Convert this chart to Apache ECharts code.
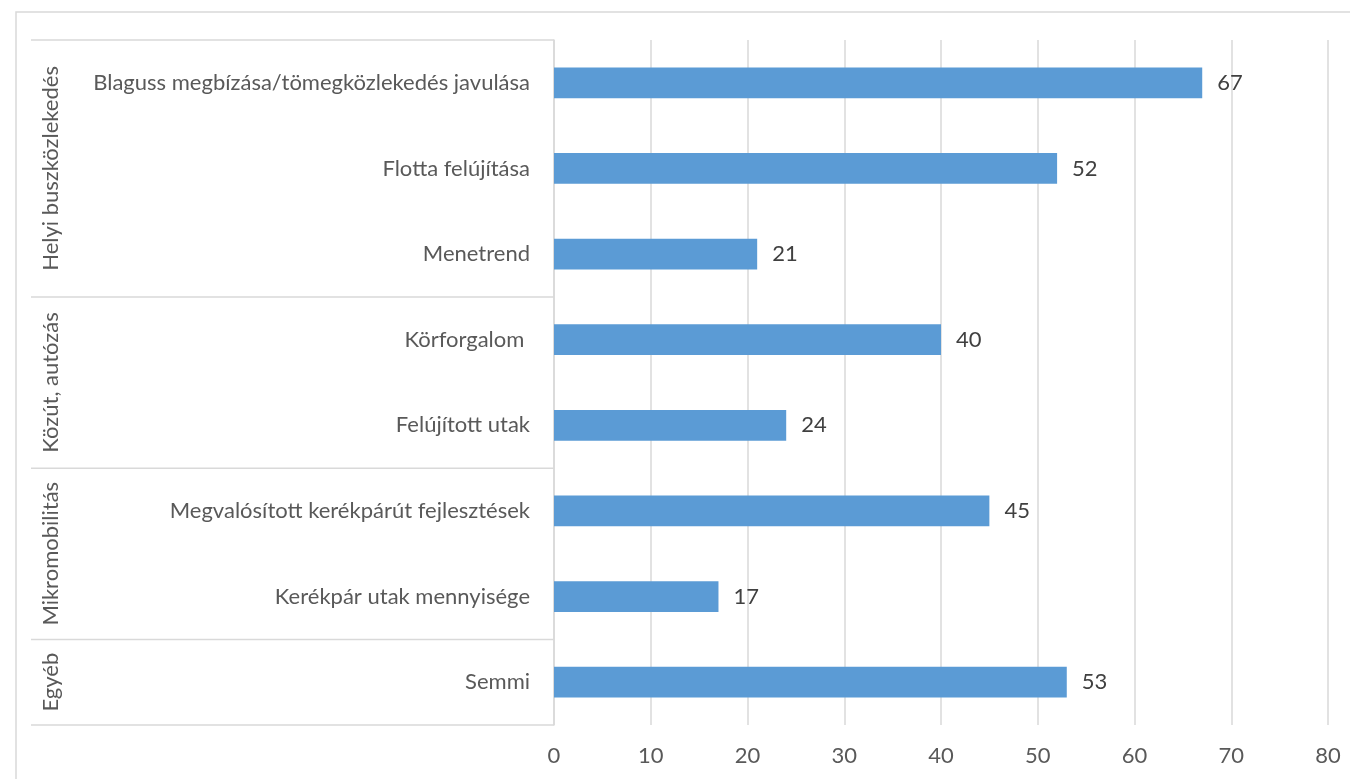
<!DOCTYPE html>
<html>
<head>
<meta charset="utf-8">
<script src="https://cdn.jsdelivr.net/npm/echarts@6/dist/echarts.min.js"></script>
<style>
  html, body { margin: 0; padding: 0; background: #fff; }
  #main { width: 1350px; height: 779px; }
</style>
</head>
<body>
<div id="main"></div>
<script>
var categories = [
    'Blaguss megbízása/tömegközlekedés javulása',
    'Flotta felújítása',
    'Menetrend',
    'Körforgalom ',
    'Felújított utak',
    'Megvalósított kerékpárút fejlesztések',
    'Kerékpár utak mennyisége',
    'Semmi'
];
var values = [67, 52, 21, 40, 24, 45, 17, 53];
var groupNames = ['Helyi buszközlekedés', 'Közút, autózás', 'Mikromobilitás', 'Egyéb'];
var groupSizes = [3, 2, 2, 1];

var textColor = '#595959';
var lineColor = '#d9d9d9';
var font = 'Lato';
var fontSize = 22;

var chart = echarts.init(document.getElementById('main'));
var option = {
    animation: false,
    grid: {
        left: 554,
        right: 22,
        top: 40,
        bottom: 54
    },
    xAxis: {
        type: 'value',
        min: 0,
        max: 80,
        interval: 10,
        axisLine: {show: false},
        axisTick: {show: false},
        axisLabel: {
            color: textColor,
            fontFamily: font,
            fontSize: fontSize,
            margin: 20
        },
        splitLine: {
            lineStyle: {color: lineColor, width: 1.5}
        }
    },
    yAxis: {
        type: 'category',
        inverse: true,
        data: categories,
        axisLine: {
            lineStyle: {color: lineColor, width: 1.5}
        },
        axisTick: {show: false},
        axisLabel: {
            color: textColor,
            fontFamily: font,
            fontSize: fontSize,
            margin: 24
        }
    },
    series: [
        {
            type: 'bar',
            data: values,
            barWidth: '36%',
            itemStyle: {color: '#5b9bd5'},
            label: {
                show: true,
                position: 'right',
                distance: 15,
                color: '#404040',
                fontFamily: font,
                fontSize: fontSize
            }
        }
    ]
};
chart.setOption(option);

// group lines and labels on the left, placed from the category scale
var c0 = chart.convertToPixel({yAxisIndex: 0}, categories[0]);
var c1 = chart.convertToPixel({yAxisIndex: 0}, categories[1]);
var band = c1 - c0;
var axisX = chart.convertToPixel({xAxisIndex: 0}, 0);
var graphics = [
    {
        type: 'rect',
        shape: {x: 16, y: 12, width: 1400, height: 800},
        style: {fill: null, stroke: lineColor, lineWidth: 1.5},
        silent: true
    }
];
var start = 0;
var yTop = c0 - band / 2;
graphics.push({
    type: 'line',
    shape: {x1: 31, y1: yTop, x2: axisX, y2: yTop},
    style: {stroke: lineColor, lineWidth: 1.5}
});
for (var i = 0; i < groupNames.length; i++) {
    var gTop = yTop + start * band;
    var gBottom = gTop + groupSizes[i] * band;
    graphics.push({
        type: 'line',
        shape: {x1: 31, y1: gBottom, x2: axisX, y2: gBottom},
        style: {stroke: lineColor, lineWidth: 1.5}
    });
    graphics.push({
        type: 'text',
        x: 51,
        y: (gTop + gBottom) / 2,
        rotation: Math.PI / 2,
        style: {
            text: groupNames[i],
            fill: textColor,
            font: fontSize + 'px ' + font,
            textAlign: 'center',
            textVerticalAlign: 'middle'
        }
    });
    start += groupSizes[i];
}
chart.setOption({graphic: graphics});
</script>
</body>
</html>
